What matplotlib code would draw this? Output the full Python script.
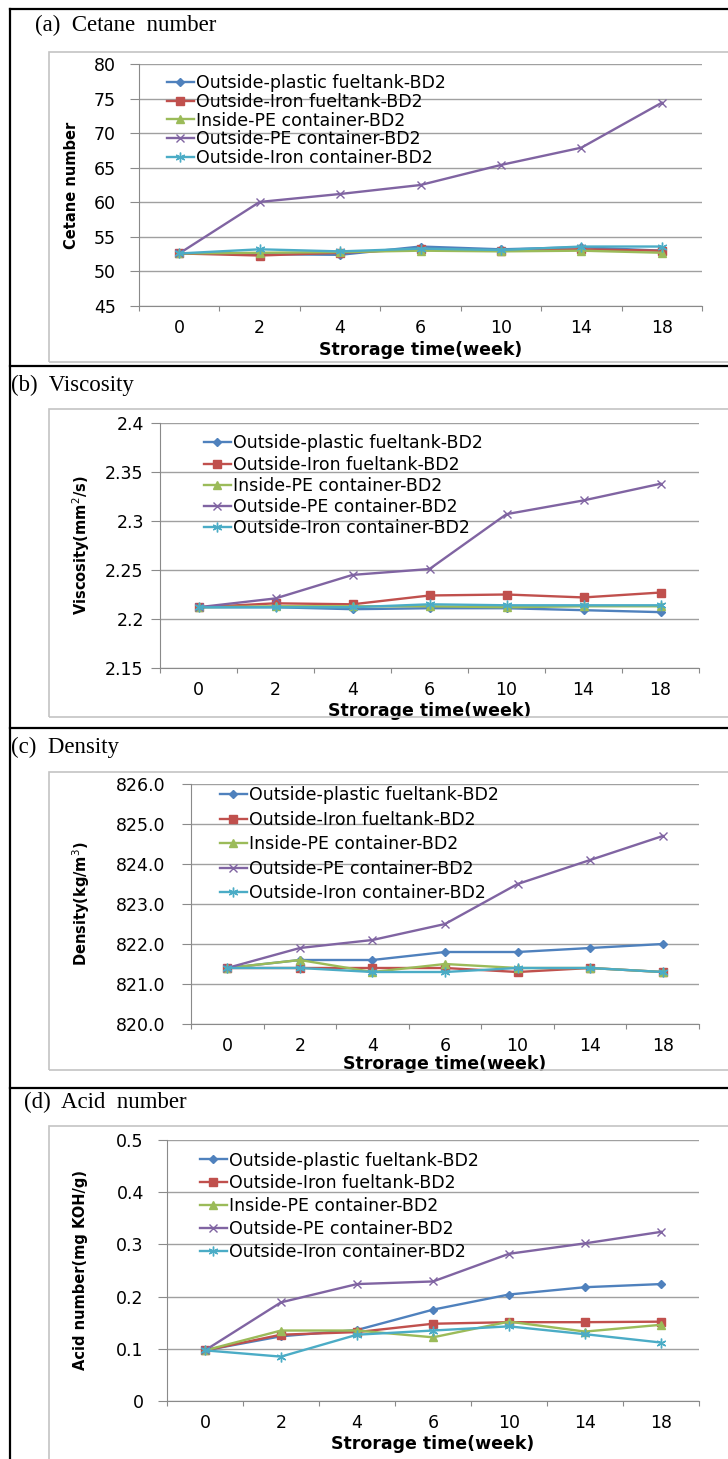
import numpy as np
import matplotlib.pyplot as plt
from matplotlib.patches import Rectangle
from matplotlib.lines import Line2D

plt.rcParams['font.family'] = ['DejaVu Sans']

# data
weeks = ['0', '2', '4', '6', '10', '14', '18']
series_names = ['Outside-plastic fueltank-BD2', 'Outside-Iron fueltank-BD2',
                'Inside-PE container-BD2', 'Outside-PE container-BD2',
                'Outside-Iron container-BD2']

# (a) cetane number
cn_plastic_tank = [52.6, 52.5, 52.4, 53.6, 53.2, 53.5, 53.0]
cn_iron_tank = [52.6, 52.3, 52.7, 53.2, 53.0, 53.2, 53.0]
cn_inside_pe = [52.6, 52.7, 52.8, 53.0, 52.9, 53.0, 52.7]
cn_outside_pe = [52.6, 60.05, 61.2, 62.5, 65.4, 67.9, 74.4]
cn_iron_cont = [52.6, 53.2, 52.9, 53.3, 53.1, 53.6, 53.6]

# (b) viscosity
vis_plastic_tank = [2.212, 2.212, 2.210, 2.211, 2.211, 2.209, 2.207]
vis_iron_tank = [2.212, 2.216, 2.215, 2.224, 2.225, 2.222, 2.227]
vis_inside_pe = [2.212, 2.213, 2.213, 2.213, 2.212, 2.213, 2.213]
vis_outside_pe = [2.212, 2.221, 2.245, 2.251, 2.307, 2.321, 2.338]
vis_iron_cont = [2.212, 2.212, 2.212, 2.215, 2.214, 2.214, 2.214]

# (c) density
den_plastic_tank = [821.4, 821.6, 821.6, 821.8, 821.8, 821.9, 822.0]
den_iron_tank = [821.4, 821.4, 821.4, 821.4, 821.3, 821.4, 821.3]
den_inside_pe = [821.4, 821.6, 821.3, 821.5, 821.4, 821.4, 821.3]
den_outside_pe = [821.4, 821.9, 822.1, 822.5, 823.5, 824.1, 824.7]
den_iron_cont = [821.4, 821.4, 821.3, 821.3, 821.4, 821.4, 821.3]

# (d) acid number
an_plastic_tank = [0.097, 0.124, 0.136, 0.175, 0.204, 0.218, 0.224]
an_iron_tank = [0.097, 0.127, 0.132, 0.148, 0.151, 0.151, 0.152]
an_inside_pe = [0.097, 0.135, 0.135, 0.122, 0.152, 0.133, 0.146]
an_outside_pe = [0.097, 0.189, 0.224, 0.229, 0.282, 0.302, 0.324]
an_iron_cont = [0.097, 0.085, 0.127, 0.135, 0.143, 0.128, 0.112]

colors = ['#4F81BD', '#C0504D', '#9BBB59', '#8064A2', '#4BACC6']
markers = ['D', 's', '^', 'x', (6, 2, 0)]
msizes = [4, 6, 6, 6, 7]

W, H = 728, 1459
fig = plt.figure(figsize=(W / 100, H / 100), dpi=100)


def fx(x):
    return x / W


def fy(y):
    return 1 - y / H


gray = '#8a8a8a'

# pixel layout of each table cell
panels = [
    dict(title='(a)  Cetane  number', tx=35, ty=25,
         box=(49, 52, 362), ax=(139, 64, 702, 306),
         data=[cn_plastic_tank, cn_iron_tank, cn_inside_pe, cn_outside_pe, cn_iron_cont],
         ylim=(45, 80), yticks=[45, 50, 55, 60, 65, 70, 75, 80],
         ylabels=['45', '50', '55', '60', '65', '70', '75', '80'],
         ylabel='Cetane number', ylx=72, ypad=10,
         leg=(167, 74.5), lspace=0.03, xly=350),
    dict(title='(b)  Viscosity', tx=11, ty=385,
         box=(49, 409, 717), ax=(160, 423, 699, 668),
         data=[vis_plastic_tank, vis_iron_tank, vis_inside_pe, vis_outside_pe, vis_iron_cont],
         ylim=(2.15, 2.4), yticks=[2.15, 2.2, 2.25, 2.3, 2.35, 2.4],
         ylabels=['2.15', '2.2', '2.25', '2.3', '2.35', '2.4'],
         ylabel='Viscosity(mm$^2$/s)', ylx=81, ypad=5,
         leg=(204, 434.5), lspace=0.18, xly=711),
    dict(title='(c)  Density', tx=11, ty=747,
         box=(49, 772, 1070), ax=(191, 784, 699, 1024),
         data=[den_plastic_tank, den_iron_tank, den_inside_pe, den_outside_pe, den_iron_cont],
         ylim=(820, 826), yticks=[820, 821, 822, 823, 824, 825, 826],
         ylabels=['820.0', '821.0', '822.0', '823.0', '824.0', '825.0', '826.0'],
         ylabel='Density(kg/m$^3$)', ylx=81, ypad=12,
         leg=(220, 786.5), lspace=0.37, xly=1064),
    dict(title='(d)  Acid  number', tx=24, ty=1102,
         box=(49, 1126, 1470), ax=(167, 1140, 699, 1401),
         data=[an_plastic_tank, an_iron_tank, an_inside_pe, an_outside_pe, an_iron_cont],
         ylim=(0, 0.5), yticks=[0, 0.1, 0.2, 0.3, 0.4, 0.5],
         ylabels=['0', '0.1', '0.2', '0.3', '0.4', '0.5'],
         ylabel='Acid number(mg KOH/g)', ylx=81, ypad=10,
         leg=(200, 1151.5), lspace=0.28, xly=1444),
]

# outer table frame and row separators
fig.add_artist(Line2D([fx(10), fx(10)], [fy(9), fy(1470)], color='black', lw=1.6))
for yy in [9, 366, 728, 1088]:
    fig.add_artist(Line2D([fx(10), fx(740)], [fy(yy), fy(yy)], color='black', lw=1.6))

x = np.arange(len(weeks))
for p in panels:
    l, t, r, b = p['ax']
    bl, bt, bb = p['box']
    fig.add_artist(Rectangle((fx(bl), fy(bb)), fx(740) - fx(bl), (bb - bt) / H,
                             transform=fig.transFigure, fill=False,
                             edgecolor='#c4c4c4', lw=1.2))
    fig.text(fx(p['tx']), fy(p['ty']), p['title'], family='Liberation Serif',
             fontsize=16.5, va='center', ha='left')

    ax = fig.add_axes([fx(l), fy(b), (r - l) / W, (b - t) / H])
    for vals, name, c, m, ms in zip(p['data'], series_names, colors, markers, msizes):
        ax.plot(x, vals, color=c, marker=m, ms=ms, lw=1.7, label=name,
                mec=c, mfc=c, mew=1.0, clip_on=False)
    ax.set_xlim(-0.5, 6.5)
    ax.set_ylim(*p['ylim'])
    ax.set_yticks(p['yticks'])
    ax.set_yticklabels(p['ylabels'])
    ax.set_xticks(np.arange(-0.5, 7, 1))
    ax.set_xticklabels([])
    ax.set_xticks(x, minor=True)
    ax.set_xticklabels(weeks, minor=True)
    ax.tick_params(axis='x', which='major', length=3.6, color=gray, direction='out')
    ax.tick_params(axis='x', which='minor', length=0, pad=9.5, labelsize=12.5)
    ax.tick_params(axis='y', length=6.7, color=gray, direction='out',
                   pad=p['ypad'], labelsize=12.5)
    ax.grid(axis='y', color='#a0a0a0', lw=1)
    ax.set_axisbelow(True)
    for s in ['top', 'right']:
        ax.spines[s].set_visible(False)
    for s in ['left', 'bottom']:
        ax.spines[s].set_color(gray)

    ax.set_xlabel('Strorage time(week)', fontsize=12.5, fontweight='bold')
    ax.xaxis.set_label_coords(fx((l + r) / 2), fy(p['xly']), transform=fig.transFigure)
    ax.xaxis.label.set_va('center')
    ax.set_ylabel(p['ylabel'], fontsize=10.5, fontweight='bold')
    ax.yaxis.set_label_coords(fx(p['ylx']), fy((t + b) / 2), transform=fig.transFigure)
    ax.yaxis.label.set_va('center')

    lx, ly = p['leg']
    ax.legend(loc='upper left', bbox_to_anchor=(fx(lx), fy(ly)),
              bbox_transform=fig.transFigure, frameon=False, borderpad=0,
              borderaxespad=0, handlelength=1.55, handletextpad=0.1,
              labelspacing=p['lspace'], fontsize=12.5)

fig.savefig('out.png', dpi=100)
